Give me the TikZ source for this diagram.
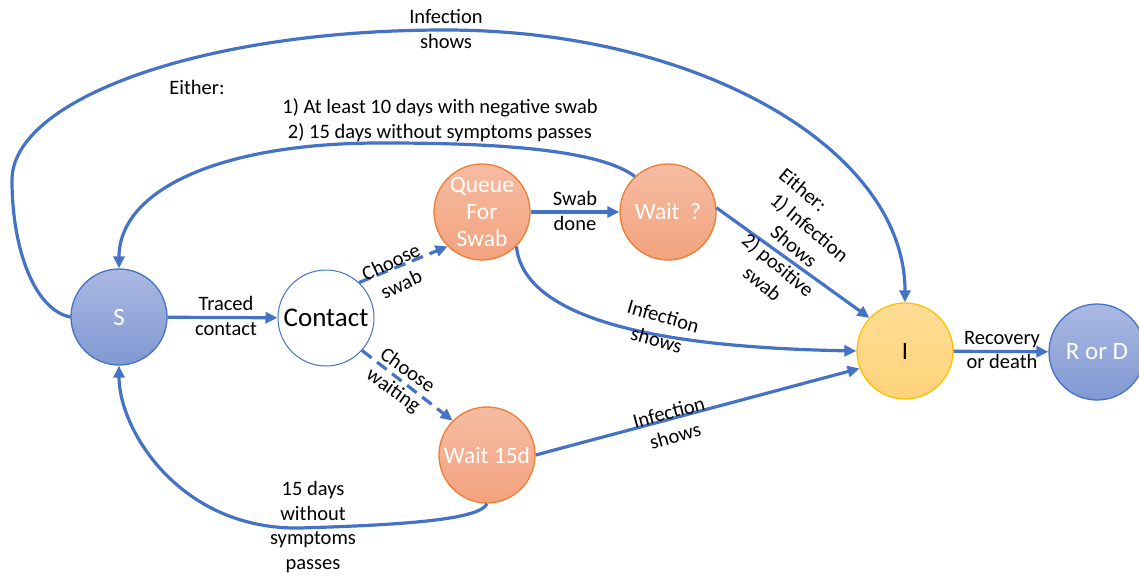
\documentclass[tikz,border=0pt]{standalone}
\usepackage{fontspec}
\setmainfont{Carlito}
\usetikzlibrary{arrows.meta}
\definecolor{edgeblue}{HTML}{4472C4}
\definecolor{bluetop}{HTML}{AAB9E2}
\definecolor{bluebot}{HTML}{8198D2}
\definecolor{orgtop}{HTML}{F5BCA2}
\definecolor{orgbot}{HTML}{F3A27E}
\definecolor{orgline}{HTML}{ED7D31}
\definecolor{ytop}{HTML}{FFDD95}
\definecolor{ybot}{HTML}{FFD27A}
\definecolor{yline}{HTML}{FFC000}
\tikzset{
  statenode/.style={circle, minimum size=96pt, inner sep=0pt, align=center, line width=1.3pt},
  bluenode/.style={statenode, draw=edgeblue, top color=bluetop, bottom color=bluebot, text=white, font=\fontsize{25}{28}\selectfont},
  orangenode/.style={statenode, draw=orgline, top color=orgtop, bottom color=orgbot, text=white, font=\fontsize{23.5}{27}\selectfont},
  ynode/.style={statenode, draw=yline, top color=ytop, bottom color=ybot, text=black, font=\fontsize{25}{28}\selectfont},
  contactnode/.style={statenode, draw=edgeblue, line width=1pt, fill=white, text=black, font=\fontsize{27}{30}\selectfont},
  edge/.style={draw=edgeblue, line width=3.2pt, -{Triangle[length=12pt,width=11pt]}},
  dashedge/.style={dash pattern=on 12pt off 7pt},
  lbl/.style={align=center, inner sep=0pt, text=black, font=\fontsize{20.5}{24.5}\selectfont},
}
\begin{document}
\begin{tikzpicture}[x=1pt,y=-1pt]
\useasboundingbox (0,0) rectangle (1139,575);
% nodes
\node[bluenode] (S) at (119,317) {S};
\node[contactnode] (C) at (326,318) {Contact};
\node[orangenode] (Q) at (482,212) {Queue\\For\\Swab};
\node[orangenode] (W) at (668,212) {Wait\ \ ?};
\node[orangenode] (W15) at (487,455) {Wait 15d};
\node[ynode] (I) at (905,351) {I};
\node[bluenode] (R) at (1097,352) {R or D};
% edges
\draw[edge] (S) -- (C);
\node[lbl] (lTraced) at (226,316) {Traced\\contact};
\draw[edge,dashedge] (C.47) -- (Q.225);
\node[lbl,rotate=25] (lCswab) at (396,273) {Choose\\swab};
\draw[edge,dashedge] (C.318) -- (W15.135);
\node[lbl,rotate=-35] (lCwait) at (400,381) {Choose\\waiting};
\draw[edge] (Q) -- (W);
\node[lbl] (lSwab) at (575,211) {Swab\\done};
\draw[edge] (W.5) -- (I.137);
\node[lbl,rotate=-40] (lEither2) at (794,246) {Either:\hspace*{58pt}\\1) Infection\\Shows\\2) positive\\swab};
\draw[edge] (Q.315) .. controls (525,330) and (700,348) .. (I.west);
\node[lbl,rotate=-16] (lInfQ) at (660,328) {Infection\\shows};
\draw[edge] (W15.east) -- (I.201);
\node[lbl,rotate=15] (lInfW) at (672,424) {Infection\\shows};
\draw[edge] (I) -- (R);
\node[lbl] (lRec) at (1002,350) {Recovery\\or death};
\draw[edge] (W15.south) .. controls (480,520) and (400,525) .. (300,528) .. controls (180,530) and (119,430) .. (S.south);
\node[lbl] (l15) at (313,527) {15 days\\without\\symptoms\\passes};
\draw[edge] (W.133) .. controls (600,150) and (500,143) .. (386,143) .. controls (220,142) and (119,190) .. (S.north);
\node[lbl] (lEither) at (197,87) {Either:};
\node[lbl] (lCond) at (440,120) {1) At least 10 days with negative swab\\2) 15 days without symptoms passes};
\draw[edge] (S.west) .. controls (35,310) and (12,250) .. (12,180) .. controls (12,100) and (200,30) .. (445,30) .. controls (700,30) and (905,150) .. (I.north);
\node[lbl] (lInfTop) at (446,29) {Infection\\shows};
\end{tikzpicture}
\end{document}
